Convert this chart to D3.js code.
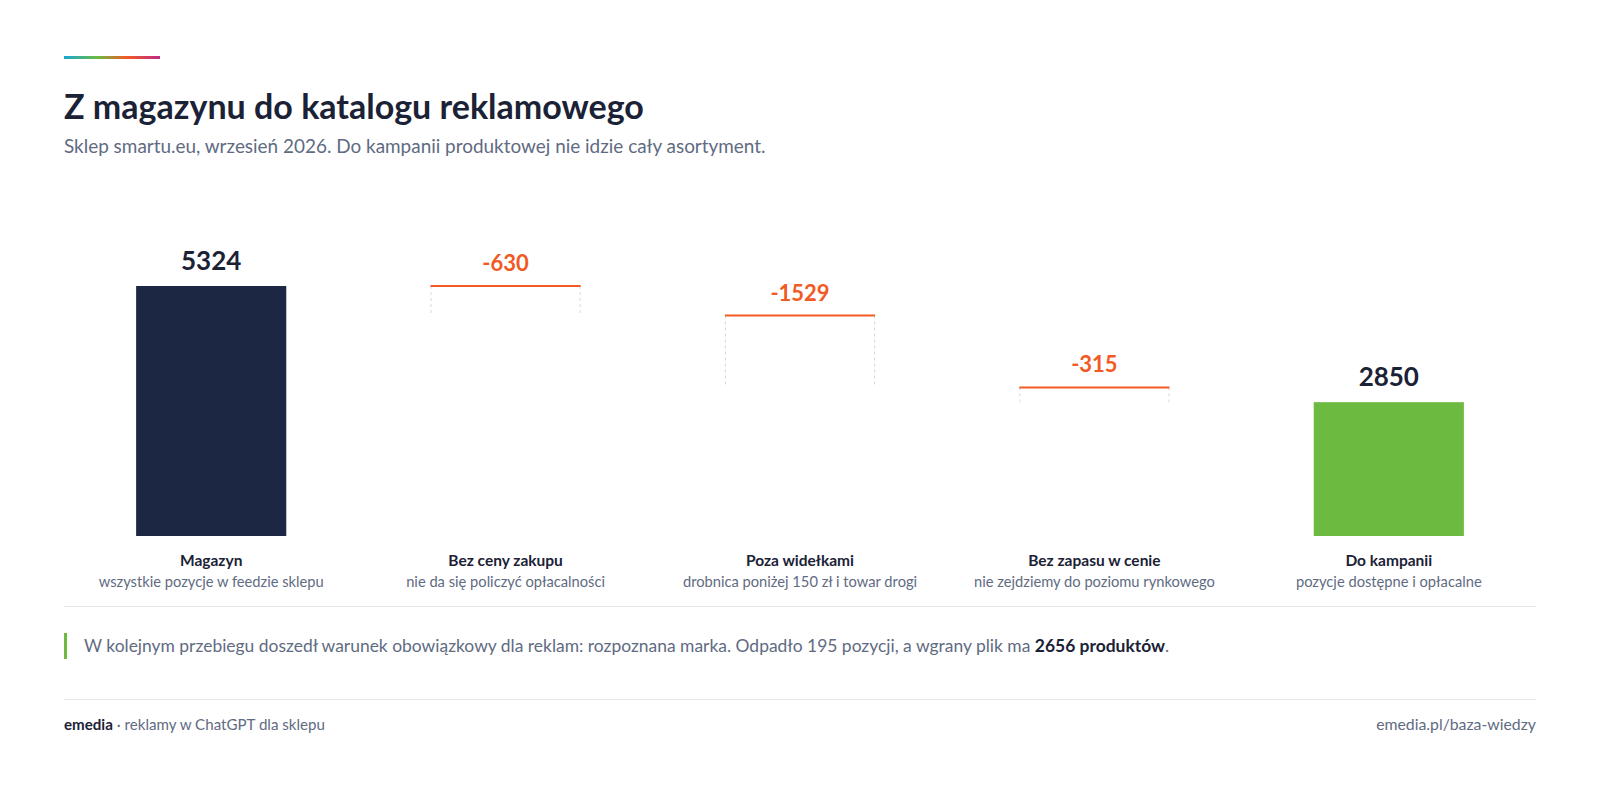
<!DOCTYPE html>
<html>
<head>
<meta charset="utf-8">
<script src="https://cdn.jsdelivr.net/npm/d3@7/dist/d3.min.js"></script>
<style>
  html, body { margin: 0; padding: 0; background: #ffffff; }
  svg { display: block; font-family: Lato, "Noto Sans", sans-serif; }
</style>
</head>
<body>
<svg id="chart" width="1600" height="795"></svg>
<script>
// ---- data ----
const categories = ["Magazyn", "Bez ceny zakupu", "Poza widełkami", "Bez zapasu w cenie", "Do kampanii"];
const subLabels = [
  "wszystkie pozycje w feedzie sklepu",
  "nie da się policzyć opłacalności",
  "drobnica poniżej 150 zł i towar drogi",
  "nie zejdziemy do poziomu rynkowego",
  "pozycje dostępne i opłacalne"
];
const values = [5324, -630, -1529, -315, 2850];
const kinds = ["total", "delta", "delta", "delta", "total"];
const valueLabels = ["5324", "-630", "-1529", "-315", "2850"];

const title = "Z magazynu do katalogu reklamowego";
const subtitle = "Sklep smartu.eu, wrzesień 2026. Do kampanii produktowej nie idzie cały asortyment.";
const notePlain = "W kolejnym przebiegu doszedł warunek obowiązkowy dla reklam: rozpoznana marka. Odpadło 195 pozycji, a wgrany plik ma ";
const noteBold = "2656 produktów";
const footerBrand = "emedia";
const footerText = " · reklamy w ChatGPT dla sklepu";
const footerRight = "emedia.pl/baza-wiedzy";

// ---- colours ----
const C = {
  ink: "#1b2236",
  navy: "#1c2843",
  orange: "#f15a24",
  green: "#6cba3f",
  gray: "#5f6b82",
  rule: "#e6e8ec",
  dash: "#d7dadf"
};

const svg = d3.select("#chart");
svg.append("rect").attr("width", 1600).attr("height", 795).attr("fill", "#fff");

function fit(sel, target) {
  const w = sel.node().getComputedTextLength();
  const fs = parseFloat(sel.attr("font-size"));
  sel.attr("font-size", (fs * target / w).toFixed(2));
}

// gradient accent
const defs = svg.append("defs");
const grad = defs.append("linearGradient").attr("id", "accent");
[["0%", "#1aa7d4"], ["35%", "#6cba3f"], ["65%", "#f15a24"], ["100%", "#c02a82"]].forEach(s =>
  grad.append("stop").attr("offset", s[0]).attr("stop-color", s[1]));
svg.append("rect").attr("x", 64).attr("y", 56).attr("width", 96).attr("height", 3).attr("fill", "url(#accent)");

// title + subtitle
const t = svg.append("text").attr("x", 64).attr("y", 119).attr("font-size", 32).attr("font-weight", 700)
  .attr("fill", C.ink).text(title);
fit(t, 580);
const st = svg.append("text").attr("x", 64).attr("y", 153).attr("font-size", 17).attr("fill", C.gray).text(subtitle);
fit(st, 702);

// ---- scales ----
const x = d3.scaleBand().domain(categories).range([64, 1536]).paddingInner(0.49).paddingOuter(0.245);
const y = d3.scaleLinear().domain([0, d3.max(values)]).range([536, 286]);

// waterfall positions
let running = 0;
const rows = categories.map((c, i) => {
  let top, bottom;
  if (kinds[i] === "total") {
    running = values[i];
    top = values[i]; bottom = 0;
  } else {
    top = running; bottom = running + values[i];
    running = bottom;
  }
  return { c, i, top, bottom, kind: kinds[i] };
});

const g = svg.append("g");

// totals
g.selectAll("rect.total").data(rows.filter(r => r.kind === "total")).join("rect")
  .attr("class", "total")
  .attr("x", d => x(d.c)).attr("width", x.bandwidth())
  .attr("y", d => y(d.top)).attr("height", d => y(d.bottom) - y(d.top))
  .attr("fill", d => d.i === 0 ? C.navy : C.green);

// deltas: dashed sides + top orange line
const deltas = rows.filter(r => r.kind === "delta");
deltas.forEach(d => {
  [x(d.c) + 0.5, x(d.c) + x.bandwidth() - 0.5].forEach(xx => {
    g.append("line").attr("x1", xx).attr("x2", xx).attr("y1", y(d.top)).attr("y2", y(d.bottom))
      .attr("stroke", C.dash).attr("stroke-width", 1).attr("stroke-dasharray", "3,3");
  });
  g.append("line").attr("x1", x(d.c)).attr("x2", x(d.c) + x.bandwidth())
    .attr("y1", y(d.top)).attr("y2", y(d.top))
    .attr("stroke", C.orange).attr("stroke-width", 2);
});

// value labels
g.selectAll("text.val").data(rows).join("text")
  .attr("class", "val")
  .attr("x", d => x(d.c) + x.bandwidth() / 2)
  .attr("y", d => y(d.top) - (d.kind === "total" ? 16 : 15))
  .attr("text-anchor", "middle")
  .attr("font-weight", 700)
  .attr("font-size", d => d.kind === "total" ? 26 : 22)
  .attr("fill", d => d.kind === "total" ? C.ink : C.orange)
  .text(d => valueLabels[d.i]);

// category labels
g.selectAll("text.cat").data(rows).join("text")
  .attr("class", "cat")
  .attr("x", d => x(d.c) + x.bandwidth() / 2).attr("y", 566)
  .attr("text-anchor", "middle").attr("font-weight", 700).attr("font-size", 15.5)
  .attr("fill", C.ink).text(d => d.c);
g.selectAll("text.sub").data(rows).join("text")
  .attr("class", "sub")
  .attr("x", d => x(d.c) + x.bandwidth() / 2).attr("y", 587)
  .attr("text-anchor", "middle").attr("font-size", 14.7)
  .attr("fill", C.gray).text(d => subLabels[d.i]);

// divider
svg.append("line").attr("x1", 64).attr("x2", 1536).attr("y1", 606.5).attr("y2", 606.5).attr("stroke", C.rule);

// note
svg.append("rect").attr("x", 64).attr("y", 633).attr("width", 3).attr("height", 26).attr("fill", C.green);
const note = svg.append("text").attr("x", 84).attr("y", 652).attr("font-size", 16.5).attr("fill", C.gray);
note.append("tspan").text(notePlain);
note.append("tspan").attr("font-weight", 700).attr("fill", C.ink).text(noteBold);
note.append("tspan").text(".");
fit(note, 1086);

// footer
svg.append("line").attr("x1", 64).attr("x2", 1536).attr("y1", 699.5).attr("y2", 699.5).attr("stroke", C.rule);
const ft = svg.append("text").attr("x", 64).attr("y", 730).attr("font-size", 14).attr("fill", C.gray);
ft.append("tspan").attr("font-weight", 700).attr("fill", C.ink).text(footerBrand);
ft.append("tspan").text(footerText);
fit(ft, 261);
const fr = svg.append("text").attr("x", 1536).attr("y", 730).attr("text-anchor", "end").attr("font-size", 14)
  .attr("fill", C.gray).text(footerRight);
fit(fr, 160);
</script>
</body>
</html>
